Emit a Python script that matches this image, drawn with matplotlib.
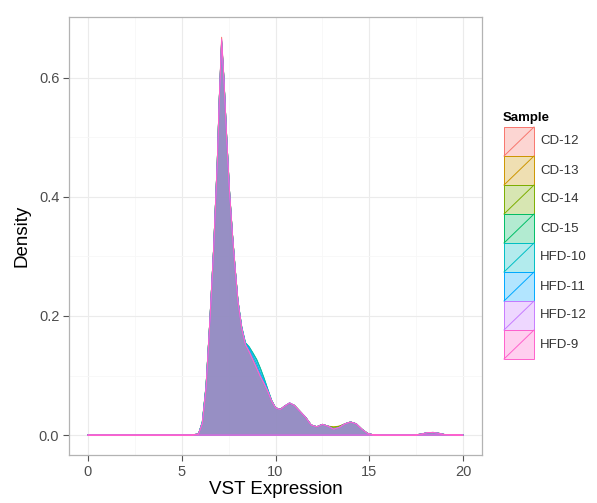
import matplotlib
matplotlib.use("Agg")
import matplotlib.pyplot as plt
from matplotlib.patches import Rectangle

plt.rcParams['font.family'] = ['Liberation Sans', 'DejaVu Sans']

# ---- data (density of VST expression per sample) ----
samples = ['CD-12', 'CD-13', 'CD-14', 'CD-15', 'HFD-10', 'HFD-11', 'HFD-12', 'HFD-9']
colors = ['#F8766D', '#CD9600', '#7CAE00', '#00BE67', '#00BFC4', '#00A9FF', '#C77CFF', '#FF61CC']

vst = [0, 5.5, 5.9, 6.1, 6.3, 6.5, 6.7, 6.9, 7.0, 7.13, 7.25, 7.4, 7.55, 7.7, 7.85,
       8.0, 8.2, 8.4, 8.6, 8.8, 9.0, 9.2, 9.4, 9.6, 9.8, 10.0, 10.25, 10.5, 10.75,
       11.0, 11.3, 11.6, 11.9, 12.2, 12.5, 12.8, 13.1, 13.4, 13.7, 14.0, 14.3, 14.6,
       14.9, 15.2, 15.6, 17.4, 17.8, 18.1, 18.4, 18.7, 19.0, 20]

dens_cd12 = [0, 0, 0.002, 0.02, 0.08, 0.19, 0.31, 0.46, 0.56, 0.668, 0.60, 0.50, 0.41, 0.34, 0.28,
             0.225, 0.18, 0.152, 0.140, 0.126, 0.112, 0.098, 0.086, 0.073, 0.057, 0.046, 0.043, 0.049, 0.054,
             0.050, 0.040, 0.030, 0.017, 0.014, 0.018, 0.015, 0.010, 0.013, 0.019, 0.022, 0.019, 0.010,
             0.003, 0.0005, 0, 0, 0.002, 0.0042, 0.0045, 0.003, 0.001, 0]
dens_cd13 = [0, 0, 0.002, 0.021, 0.082, 0.19, 0.31, 0.46, 0.56, 0.660, 0.60, 0.50, 0.41, 0.34, 0.28,
             0.225, 0.18, 0.152, 0.141, 0.127, 0.113, 0.098, 0.086, 0.073, 0.057, 0.046, 0.043, 0.049, 0.053,
             0.050, 0.040, 0.030, 0.017, 0.014, 0.018, 0.015, 0.014, 0.015, 0.019, 0.022, 0.019, 0.010,
             0.003, 0.0005, 0, 0, 0.002, 0.0040, 0.0044, 0.003, 0.001, 0]
dens_cd14 = [0, 0, 0.002, 0.02, 0.081, 0.19, 0.31, 0.46, 0.56, 0.662, 0.60, 0.50, 0.41, 0.34, 0.28,
             0.225, 0.18, 0.152, 0.141, 0.127, 0.113, 0.098, 0.086, 0.073, 0.057, 0.046, 0.043, 0.049, 0.053,
             0.050, 0.040, 0.030, 0.017, 0.014, 0.018, 0.015, 0.013, 0.015, 0.019, 0.022, 0.019, 0.010,
             0.003, 0.0005, 0, 0, 0.002, 0.0040, 0.0044, 0.003, 0.001, 0]
dens_cd15 = [0, 0, 0.002, 0.022, 0.083, 0.19, 0.31, 0.46, 0.56, 0.658, 0.60, 0.50, 0.41, 0.34, 0.28,
             0.226, 0.182, 0.155, 0.148, 0.138, 0.127, 0.112, 0.095, 0.076, 0.058, 0.046, 0.043, 0.049, 0.053,
             0.050, 0.040, 0.030, 0.017, 0.014, 0.018, 0.015, 0.011, 0.013, 0.019, 0.022, 0.019, 0.010,
             0.003, 0.0005, 0, 0, 0.002, 0.0040, 0.0044, 0.003, 0.001, 0]
dens_hfd10 = [0, 0, 0.002, 0.022, 0.083, 0.19, 0.31, 0.46, 0.56, 0.660, 0.60, 0.50, 0.41, 0.34, 0.28,
              0.226, 0.182, 0.155, 0.148, 0.137, 0.126, 0.111, 0.094, 0.076, 0.058, 0.046, 0.043, 0.049, 0.054,
              0.050, 0.040, 0.030, 0.017, 0.014, 0.018, 0.015, 0.010, 0.013, 0.019, 0.022, 0.019, 0.010,
              0.003, 0.0005, 0, 0, 0.002, 0.0042, 0.0045, 0.003, 0.001, 0]
dens_hfd11 = [0, 0, 0.002, 0.021, 0.082, 0.19, 0.31, 0.46, 0.56, 0.662, 0.60, 0.50, 0.41, 0.34, 0.28,
              0.225, 0.181, 0.153, 0.145, 0.133, 0.120, 0.104, 0.090, 0.074, 0.057, 0.046, 0.043, 0.049, 0.054,
              0.050, 0.040, 0.030, 0.017, 0.014, 0.018, 0.015, 0.010, 0.013, 0.019, 0.022, 0.019, 0.010,
              0.003, 0.0005, 0, 0, 0.002, 0.0042, 0.0045, 0.003, 0.001, 0]
dens_hfd12 = [0, 0, 0.002, 0.02, 0.08, 0.19, 0.31, 0.46, 0.56, 0.663, 0.60, 0.50, 0.41, 0.34, 0.28,
              0.225, 0.18, 0.152, 0.140, 0.126, 0.112, 0.098, 0.086, 0.073, 0.057, 0.046, 0.043, 0.049, 0.054,
              0.050, 0.040, 0.030, 0.017, 0.014, 0.018, 0.015, 0.010, 0.013, 0.019, 0.022, 0.019, 0.010,
              0.003, 0.0005, 0, 0, 0.002, 0.0042, 0.0045, 0.003, 0.001, 0]
dens_hfd9 = [0, 0, 0.002, 0.02, 0.08, 0.19, 0.31, 0.46, 0.56, 0.665, 0.60, 0.50, 0.41, 0.34, 0.28,
             0.225, 0.18, 0.152, 0.140, 0.126, 0.112, 0.098, 0.086, 0.073, 0.057, 0.046, 0.043, 0.049, 0.054,
             0.050, 0.040, 0.030, 0.017, 0.014, 0.018, 0.015, 0.010, 0.013, 0.019, 0.022, 0.019, 0.010,
             0.003, 0.0005, 0, 0, 0.002, 0.0042, 0.0045, 0.003, 0.001, 0]

densities = [dens_cd12, dens_cd13, dens_cd14, dens_cd15,
             dens_hfd10, dens_hfd11, dens_hfd12, dens_hfd9]

x_ticks = [0, 5, 10, 15, 20]
y_ticks = [0.0, 0.2, 0.4, 0.6]
y_tick_labels = ['0.0', '0.2', '0.4', '0.6']

W, H = 597, 503
ALPHA = 0.3


def fx(px):
    return px / W


def fy(py):
    return 1 - py / H


fig = plt.figure(figsize=(W / 100, H / 100), dpi=100)
ax = fig.add_axes([fx(69), fy(455), fx(482) - fx(69), fy(17) - fy(455)])

for dens, col in zip(densities, colors):
    ax.fill_between(vst, dens, 0, facecolor=col, alpha=ALPHA, lw=0)
    ax.fill_between(vst, dens, 0, facecolor='none', edgecolor=col, lw=0.7)

ax.set_xlim(-1.0, 21.0)
ax.set_ylim(-0.0334, 0.702)
ax.set_xticks(x_ticks)
ax.set_yticks(y_ticks)
ax.set_yticklabels(y_tick_labels)
ax.set_xticks([2.5, 7.5, 12.5, 17.5], minor=True)
ax.set_yticks([0.1, 0.3, 0.5], minor=True)
ax.grid(True, which='major', color='#EBEBEB', lw=0.8)
ax.grid(True, which='minor', color='#F7F7F7', lw=0.6)
ax.set_axisbelow(True)
ax.tick_params(which='major', direction='out', length=4, width=0.8, color='#555555',
               labelsize=10.5, labelcolor='#4D4D4D', pad=3)
ax.tick_params(which='minor', length=0)
for sp in ax.spines.values():
    sp.set_color('#B3B3B3')
    sp.set_linewidth(0.9)

ax.set_xlabel('VST Expression', fontsize=13.5, labelpad=2)
ax.set_ylabel('Density', fontsize=13.5, labelpad=6)

# ---- legend (ggplot style keys with diagonal slash) ----
lax = fig.add_axes([0, 0, 1, 1])
lax.set_xlim(0, W)
lax.set_ylim(H, 0)
lax.axis('off')
key_x, key_y0, key_w, key_h = 504, 127, 30, 29
lax.text(key_x - 1, key_y0 - 9, 'Sample', fontsize=9.5, fontweight='bold',
         va='center', ha='left')
for i, (name, col) in enumerate(zip(samples, colors)):
    top = key_y0 + i * key_h
    lax.add_patch(Rectangle((key_x, top), key_w, key_h, facecolor=col, alpha=ALPHA, lw=0))
    lax.add_patch(Rectangle((key_x, top), key_w, key_h, facecolor='none', edgecolor=col, lw=0.7))
    lax.plot([key_x, key_x + key_w], [top + key_h, top], color=col, lw=0.7)
    lax.text(key_x + key_w + 6, top + key_h / 2, name, fontsize=9.5, color='#333333',
             va='center', ha='left')

fig.savefig('out.png', dpi=100)
